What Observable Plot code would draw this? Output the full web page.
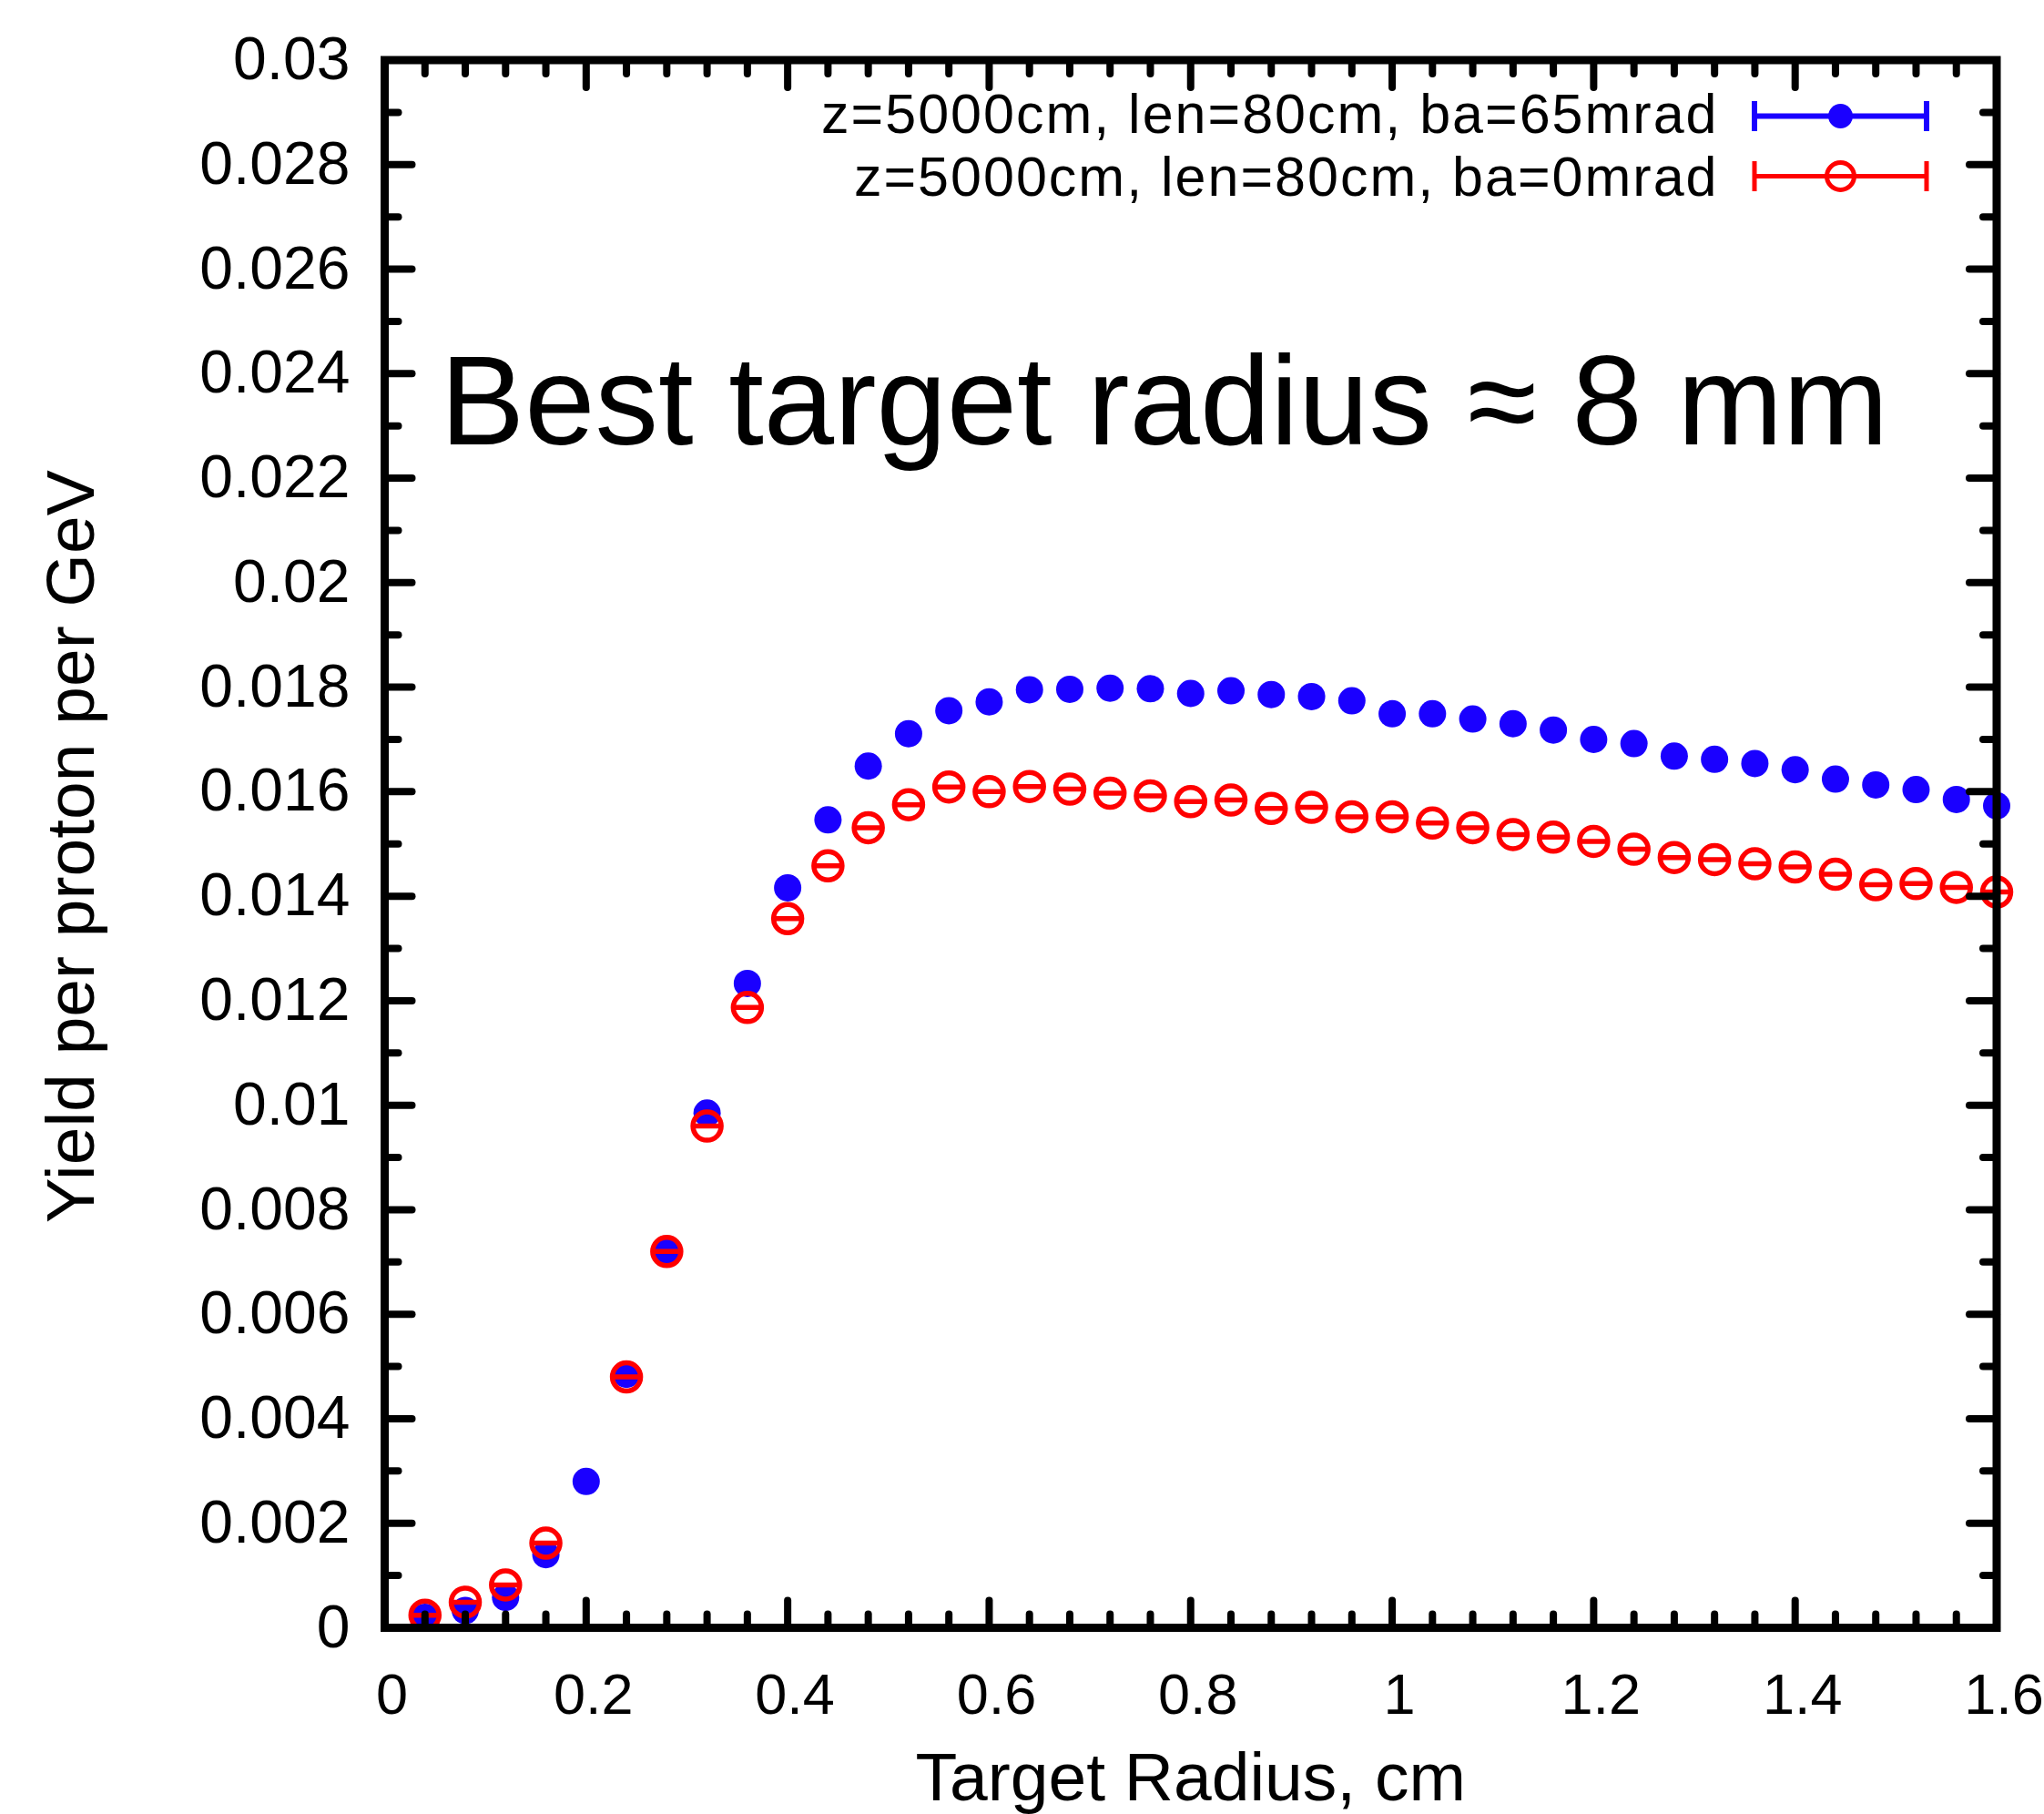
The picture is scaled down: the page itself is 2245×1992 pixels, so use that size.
<!DOCTYPE html>
<html>
<head>
<meta charset="utf-8">
<script src="https://cdn.jsdelivr.net/npm/d3@7"></script>
<script src="https://cdn.jsdelivr.net/npm/@observablehq/plot@0.6"></script>
<style>
html, body { margin: 0; padding: 0; background: #fff; }
#chart { width: 2245px; height: 1992px; }
</style>
</head>
<body>
<div id="chart"></div>
<script>
// ---- data ----
const radius = [0.04, 0.08, 0.12, 0.16, 0.2, 0.24, 0.28, 0.32, 0.36, 0.4,
  0.44, 0.48, 0.52, 0.56, 0.6, 0.64, 0.68, 0.72, 0.76, 0.8,
  0.84, 0.88, 0.92, 0.96, 1.0, 1.04, 1.08, 1.12, 1.16, 1.2,
  1.24, 1.28, 1.32, 1.36, 1.4, 1.44, 1.48, 1.52, 1.56, 1.6];
const yieldBa65 = [0.0002, 0.00033, 0.00058, 0.0014, 0.0028, 0.00485, 0.0072, 0.00985, 0.01233, 0.01416,
  0.01546, 0.01649, 0.01711, 0.01755, 0.01772, 0.01795, 0.01796, 0.01798, 0.01797, 0.01788,
  0.01793, 0.01786, 0.01782, 0.01774, 0.01749, 0.01749, 0.01739, 0.0173, 0.01718, 0.017,
  0.01692, 0.01668, 0.01662, 0.01654, 0.01642, 0.01624, 0.01613, 0.01604, 0.01585, 0.01573];
const yieldBa0 = [0.00024, 0.00049, 0.00082, 0.00162, null, 0.0048, 0.0072, 0.0096, 0.01187, 0.01357,
  0.01458, 0.01531, 0.01575, 0.01609, 0.016, 0.0161, 0.01605, 0.01597, 0.01592, 0.01581,
  0.01584, 0.01568, 0.0157, 0.01552, 0.01552, 0.0154, 0.01531, 0.01518, 0.01513, 0.01505,
  0.0149, 0.01474, 0.0147, 0.01462, 0.01456, 0.01442, 0.01422, 0.01424, 0.01417, 0.01408];
const seriesLabels = ["z=5000cm, len=80cm, ba=65mrad", "z=5000cm, len=80cm, ba=0mrad"];
const xTicks = [0, 0.2, 0.4, 0.6, 0.8, 1, 1.2, 1.4, 1.6];
const xTickLabels = ["0", "0.2", "0.4", "0.6", "0.8", "1", "1.2", "1.4", "1.6"];
const yTicks = [0, 0.002, 0.004, 0.006, 0.008, 0.01, 0.012, 0.014, 0.016, 0.018, 0.02, 0.022, 0.024, 0.026, 0.028, 0.03];
const yTickLabels = ["0", "0.002", "0.004", "0.006", "0.008", "0.01", "0.012", "0.014", "0.016", "0.018", "0.02", "0.022", "0.024", "0.026", "0.028", "0.03"];
const xTitle = "Target Radius, cm";
const yTitle = "Yield per proton per GeV";
const note = "Best target radius \u2248 8 mm";

// ---- derived tables ----
const data65 = radius.map((r, i) => ({r, y: yieldBa65[i]}));
const data0 = radius.map((r, i) => ({r, y: yieldBa0[i]})).filter(d => d.y != null);
const xMinor = d3.range(1, 40).map(i => i * 0.04).filter(v => Math.abs(v / 0.2 - Math.round(v / 0.2)) > 1e-6);
const yMinor = d3.range(1, 30, 2).map(i => i * 0.001);
const xTickData = xTicks.map((v, i) => ({v, t: xTickLabels[i]}));
const yTickData = yTicks.map((v, i) => ({v, t: yTickLabels[i]}));

// ---- styles ----
const BLUE = "#1a00ff", RED = "#ff0000";
const FONT = "'Liberation Sans', Arial, Helvetica, sans-serif";
const tickLine = {draw(ctx, l) { ctx.moveTo(0, 0); ctx.lineTo(0, -l); }};
const ringBar = {draw(ctx, size) {
  const r = Math.sqrt(size / Math.PI);
  ctx.moveTo(r, 0); ctx.arc(0, 0, r, 0, 2 * Math.PI);
  ctx.moveTo(-r, 0); ctx.lineTo(r, 0);
}};
const errBar = {draw(ctx) {
  const w = 94.5, h = 16.5;
  ctx.moveTo(-w, 0); ctx.lineTo(w, 0);
  ctx.moveTo(-w, -h); ctx.lineTo(-w, h);
  ctx.moveTo(w, -h); ctx.lineTo(w, h);
}};
const tk = {stroke: "black", strokeWidth: 8, shape: tickLine, anchor: "start"};

const chart = Plot.plot({
  width: 2245,
  height: 1992,
  marginLeft: 422,
  marginRight: 52.5,
  marginTop: 65.5,
  marginBottom: 205,
  style: {fontFamily: FONT, background: "white", color: "black", overflow: "visible"},
  x: {domain: [0, 1.6], axis: null},
  y: {domain: [0, 0.03], axis: null},
  marks: [
    // data
    Plot.dot(data65, {x: "r", y: "y", r: 15, fill: BLUE}),
    Plot.dot(data0, {x: "r", y: "y", r: 15.5, symbol: ringBar, stroke: RED, strokeWidth: 5.5, fill: "none"}),
    // frame + mirrored ticks (pointing inward)
    Plot.frame({stroke: "black", strokeWidth: 9}),
    Plot.vector(yTicks, {y: d => d, frameAnchor: "left", rotate: 90, length: 30, ...tk}),
    Plot.vector(yTicks, {y: d => d, frameAnchor: "right", rotate: -90, length: 30, ...tk}),
    Plot.vector(yMinor, {y: d => d, frameAnchor: "left", rotate: 90, length: 15, ...tk}),
    Plot.vector(yMinor, {y: d => d, frameAnchor: "right", rotate: -90, length: 15, ...tk}),
    Plot.vector(xTicks, {x: d => d, frameAnchor: "bottom", rotate: 0, length: 30, ...tk}),
    Plot.vector(xTicks, {x: d => d, frameAnchor: "top", rotate: 180, length: 30, ...tk}),
    Plot.vector(xMinor, {x: d => d, frameAnchor: "bottom", rotate: 0, length: 15, ...tk}),
    Plot.vector(xMinor, {x: d => d, frameAnchor: "top", rotate: 180, length: 15, ...tk}),
    // tick labels
    Plot.text(yTickData, {y: "v", text: "t", frameAnchor: "left", dx: -38, textAnchor: "end", lineAnchor: "middle", fontSize: 66, fill: "black"}),
    Plot.text(xTickData, {x: "v", text: "t", frameAnchor: "bottom", dx: 8, dy: 50, lineAnchor: "top", fontSize: 63, fill: "black"}),
    // axis titles
    Plot.text([xTitle], {text: d => d, frameAnchor: "bottom", dy: 189, lineAnchor: "bottom", fontSize: 75, fill: "black"}),
    Plot.text([yTitle], {text: d => d, frameAnchor: "left", dx: -320, dy: 3, rotate: -90, lineAnchor: "bottom", textAnchor: "middle", fontSize: 75, fill: "black"}),
    // annotation
    Plot.text([note], {text: d => d, frameAnchor: "top-left", dx: 61, dy: 421.5, textAnchor: "start", lineAnchor: "bottom", fontSize: 139, fill: "black"}),
    // legend
    Plot.text([seriesLabels[0]], {text: d => d, frameAnchor: "top-right", dx: -305.5, dy: 60, textAnchor: "end", lineAnchor: "middle", fontSize: 61, fill: "black"}),
    Plot.text([seriesLabels[1]], {text: d => d, frameAnchor: "top-right", dx: -305.5, dy: 129.5, textAnchor: "end", lineAnchor: "middle", fontSize: 61, fill: "black"}),
    Plot.dot([0], {frameAnchor: "top-right", dx: -171.5, dy: 61.5, r: 1, symbol: errBar, stroke: BLUE, strokeWidth: 6, fill: "none"}),
    Plot.dot([0], {frameAnchor: "top-right", dx: -171.5, dy: 61.5, r: 13.5, fill: BLUE}),
    Plot.dot([0], {frameAnchor: "top-right", dx: -171.5, dy: 127.5, r: 1, symbol: errBar, stroke: RED, strokeWidth: 5, fill: "none"}),
    Plot.dot([0], {frameAnchor: "top-right", dx: -171.5, dy: 127.5, r: 15, symbol: ringBar, stroke: RED, strokeWidth: 5, fill: "white"})
  ]
});
// slightly wider glyph spacing for the legend entries, as in the reference
d3.select(chart).selectAll("text")
  .filter(function () { return seriesLabels.includes(this.textContent); })
  .attr("letter-spacing", 2);
document.getElementById("chart").appendChild(chart);
</script>
</body>
</html>
